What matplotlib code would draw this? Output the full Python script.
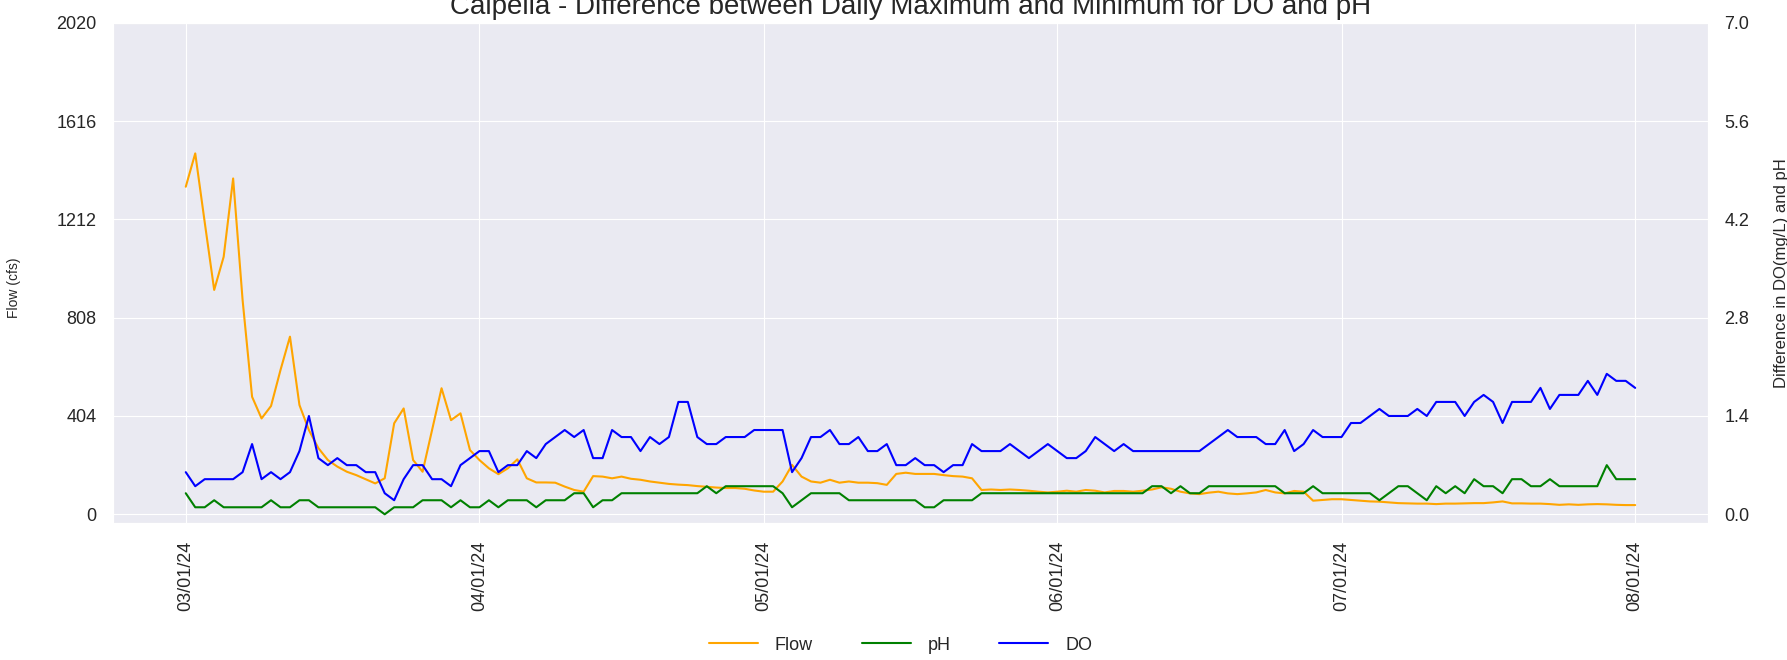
import numpy as np
import pandas as pd
import matplotlib
matplotlib.use("Agg")
import matplotlib.pyplot as plt
import matplotlib.dates as mdates
import seaborn as sns

# daily values 03/01/24 .. 08/01/24
start_date = "2024-03-01"
end_date = "2024-08-01"

flow = [
    1346, 1483, 1200, 922, 1058, 1380, 880, 483, 394, 445,
    593, 730, 449, 346, 272, 223, 196, 175, 161, 144,
    127, 148, 374, 435, 223, 175, 346, 518, 387, 415,
    264, 223, 189, 165, 189, 226, 148, 131, 131, 130,
    114, 100, 93, 157, 155, 148, 155, 146, 142, 135,
    130, 125, 122, 120, 116, 113, 110, 108, 108, 105,
    98, 93, 93, 135, 203, 155, 135, 130, 142, 130,
    135, 130, 130, 128, 121, 166, 171, 166, 166, 166,
    161, 157, 155, 148, 100, 102, 100, 102, 100, 97,
    93, 90, 93, 97, 93, 100, 97, 90, 96, 96,
    93, 97, 102, 111, 105, 93, 86, 83, 89, 93,
    86, 83, 86, 90, 100, 90, 86, 96, 93, 56,
    59, 62, 62, 59, 56, 53, 52, 49, 46, 45,
    44, 44, 42, 44, 44, 45, 46, 46, 49, 53,
    45, 45, 44, 44, 42, 39, 41, 39, 41, 42,
    41, 39, 38, 38,
]

do_diff = [
    0.6, 0.4, 0.5, 0.5, 0.5, 0.5, 0.6, 1.0, 0.5, 0.6,
    0.5, 0.6, 0.9, 1.4, 0.8, 0.7, 0.8, 0.7, 0.7, 0.6,
    0.6, 0.3, 0.2, 0.5, 0.7, 0.7, 0.5, 0.5, 0.4, 0.7,
    0.8, 0.9, 0.9, 0.6, 0.7, 0.7, 0.9, 0.8, 1.0, 1.1,
    1.2, 1.1, 1.2, 0.8, 0.8, 1.2, 1.1, 1.1, 0.9, 1.1,
    1.0, 1.1, 1.6, 1.6, 1.1, 1.0, 1.0, 1.1, 1.1, 1.1,
    1.2, 1.2, 1.2, 1.2, 0.6, 0.8, 1.1, 1.1, 1.2, 1.0,
    1.0, 1.1, 0.9, 0.9, 1.0, 0.7, 0.7, 0.8, 0.7, 0.7,
    0.6, 0.7, 0.7, 1.0, 0.9, 0.9, 0.9, 1.0, 0.9, 0.8,
    0.9, 1.0, 0.9, 0.8, 0.8, 0.9, 1.1, 1.0, 0.9, 1.0,
    0.9, 0.9, 0.9, 0.9, 0.9, 0.9, 0.9, 0.9, 1.0, 1.1,
    1.2, 1.1, 1.1, 1.1, 1.0, 1.0, 1.2, 0.9, 1.0, 1.2,
    1.1, 1.1, 1.1, 1.3, 1.3, 1.4, 1.5, 1.4, 1.4, 1.4,
    1.5, 1.4, 1.6, 1.6, 1.6, 1.4, 1.6, 1.7, 1.6, 1.3,
    1.6, 1.6, 1.6, 1.8, 1.5, 1.7, 1.7, 1.7, 1.9, 1.7,
    2.0, 1.9, 1.9, 1.8,
]

ph_diff = [
    0.3, 0.1, 0.1, 0.2, 0.1, 0.1, 0.1, 0.1, 0.1, 0.2,
    0.1, 0.1, 0.2, 0.2, 0.1, 0.1, 0.1, 0.1, 0.1, 0.1,
    0.1, 0.0, 0.1, 0.1, 0.1, 0.2, 0.2, 0.2, 0.1, 0.2,
    0.1, 0.1, 0.2, 0.1, 0.2, 0.2, 0.2, 0.1, 0.2, 0.2,
    0.2, 0.3, 0.3, 0.1, 0.2, 0.2, 0.3, 0.3, 0.3, 0.3,
    0.3, 0.3, 0.3, 0.3, 0.3, 0.4, 0.3, 0.4, 0.4, 0.4,
    0.4, 0.4, 0.4, 0.3, 0.1, 0.2, 0.3, 0.3, 0.3, 0.3,
    0.2, 0.2, 0.2, 0.2, 0.2, 0.2, 0.2, 0.2, 0.1, 0.1,
    0.2, 0.2, 0.2, 0.2, 0.3, 0.3, 0.3, 0.3, 0.3, 0.3,
    0.3, 0.3, 0.3, 0.3, 0.3, 0.3, 0.3, 0.3, 0.3, 0.3,
    0.3, 0.3, 0.4, 0.4, 0.3, 0.4, 0.3, 0.3, 0.4, 0.4,
    0.4, 0.4, 0.4, 0.4, 0.4, 0.4, 0.3, 0.3, 0.3, 0.4,
    0.3, 0.3, 0.3, 0.3, 0.3, 0.3, 0.2, 0.3, 0.4, 0.4,
    0.3, 0.2, 0.4, 0.3, 0.4, 0.3, 0.5, 0.4, 0.4, 0.3,
    0.5, 0.5, 0.4, 0.4, 0.5, 0.4, 0.4, 0.4, 0.4, 0.4,
    0.7, 0.5, 0.5, 0.5,
]

flow_max = 2020
diff_max = 7.0

dates = pd.date_range(start_date, end_date, freq="D")

sns.set_style("darkgrid")
plt.rcParams["font.family"] = ["Liberation Sans", "DejaVu Sans"]

fig, ax = plt.subplots(figsize=(17.87, 6.6), dpi=100)
fig.subplots_adjust(left=0.0634, right=0.9556, bottom=0.208, top=0.9656)

l1, = ax.plot(dates, flow, color="orange", lw=1.5, label="Flow")
ax.set_ylim(-34.5, flow_max)
ax.set_yticks(np.linspace(0, flow_max, 6))
ax.yaxis.set_major_formatter(matplotlib.ticker.FormatStrFormatter("%d"))
ax.set_ylabel("Flow (cfs)", fontsize=10)
ax.yaxis.set_label_coords(-0.058, 0.47)

ax2 = ax.twinx()
l2, = ax2.plot(dates, ph_diff, color="green", lw=1.5, label="pH")
l3, = ax2.plot(dates, do_diff, color="blue", lw=1.5, label="DO")
ax2.set_ylim(-0.12, diff_max)
ax2.set_yticks(np.linspace(0, diff_max, 6))
ax2.yaxis.set_major_formatter(matplotlib.ticker.FormatStrFormatter("%.1f"))
ax2.set_ylabel("Difference in DO(mg/L) and pH", fontsize=12)
ax2.yaxis.set_label_coords(1.0416, 0.5)
ax2.grid(False)

ax.xaxis.set_major_locator(mdates.MonthLocator())
ax.xaxis.set_major_formatter(mdates.DateFormatter("%m/%d/%y"))
for lab in ax.get_xticklabels():
    lab.set_rotation(90)

ax.tick_params(axis="y", length=0, pad=12, labelsize=13)
ax2.tick_params(axis="y", length=0, pad=12, labelsize=13)
ax.tick_params(axis="x", length=0, pad=13, labelsize=13)

ax.set_title("Calpella - Difference between Daily Maximum and Minimum for DO and pH", fontsize=20)

fig.legend([l1, l2, l3], ["Flow", "pH", "DO"], loc="center",
           bbox_to_anchor=(0.504, 1 - 645 / 660), ncol=3, frameon=False,
           fontsize=13, handlelength=2.7, handletextpad=0.95, columnspacing=2.7)

fig.savefig("out.png", dpi=100)
